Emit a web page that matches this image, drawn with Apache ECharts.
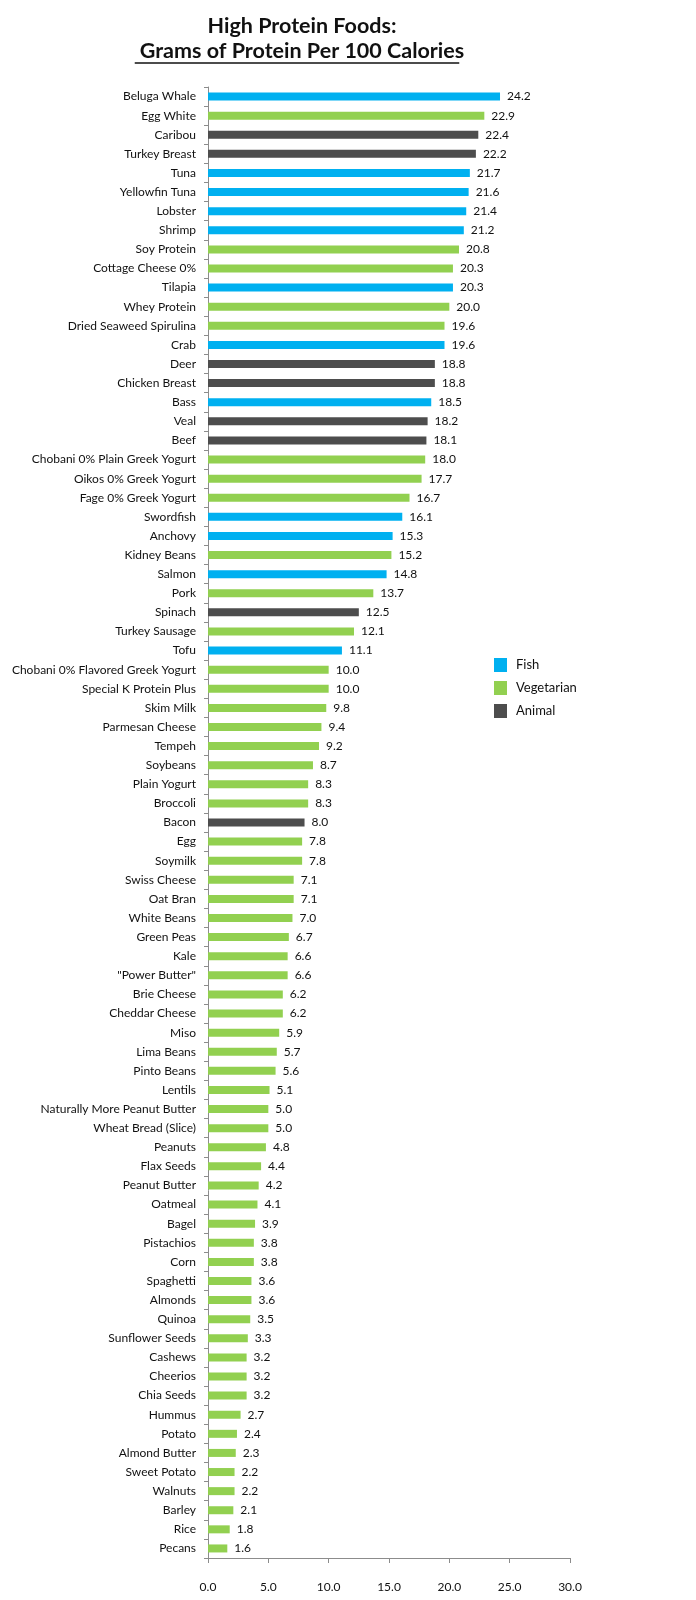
<!DOCTYPE html>
<html>
<head>
<meta charset="utf-8">
<title>High Protein Foods</title>
<script src="https://cdn.jsdelivr.net/npm/echarts@6/dist/echarts.min.js"></script>
<style>
  html, body { margin: 0; padding: 0; background: #fff; }
  #proteinChart { width: 696px; height: 1600px; }
</style>
</head>
<body>
<div id="proteinChart"></div>
<script>
// food names, top to bottom
var foods = ['Beluga Whale', 'Egg White', 'Caribou', 'Turkey Breast', 'Tuna', 'Yellowfin Tuna', 'Lobster', 'Shrimp',
    'Soy Protein', 'Cottage Cheese 0%', 'Tilapia', 'Whey Protein', 'Dried Seaweed Spirulina', 'Crab', 'Deer',
    'Chicken Breast', 'Bass', 'Veal', 'Beef', 'Chobani 0% Plain Greek Yogurt', 'Oikos 0% Greek Yogurt',
    'Fage 0% Greek Yogurt', 'Swordfish', 'Anchovy', 'Kidney Beans', 'Salmon', 'Pork', 'Spinach', 'Turkey Sausage',
    'Tofu', 'Chobani 0% Flavored Greek Yogurt', 'Special K Protein Plus', 'Skim Milk', 'Parmesan Cheese', 'Tempeh',
    'Soybeans', 'Plain Yogurt', 'Broccoli', 'Bacon', 'Egg', 'Soymilk', 'Swiss Cheese', 'Oat Bran', 'White Beans',
    'Green Peas', 'Kale', '"Power Butter"', 'Brie Cheese', 'Cheddar Cheese', 'Miso', 'Lima Beans', 'Pinto Beans',
    'Lentils', 'Naturally More Peanut Butter', 'Wheat Bread (Slice)', 'Peanuts', 'Flax Seeds', 'Peanut Butter',
    'Oatmeal', 'Bagel', 'Pistachios', 'Corn', 'Spaghetti', 'Almonds', 'Quinoa', 'Sunflower Seeds', 'Cashews',
    'Cheerios', 'Chia Seeds', 'Hummus', 'Potato', 'Almond Butter', 'Sweet Potato', 'Walnuts', 'Barley', 'Rice', 'Pecans'];

// grams of protein per 100 calories
var protein = [24.2, 22.9, 22.4, 22.2, 21.7, 21.6, 21.4, 21.2,
    20.8, 20.3, 20.3, 20.0, 19.6, 19.6, 18.8,
    18.8, 18.5, 18.2, 18.1, 18.0, 17.7,
    16.7, 16.1, 15.3, 15.2, 14.8, 13.7, 12.5, 12.1,
    11.1, 10.0, 10.0, 9.8, 9.4, 9.2,
    8.7, 8.3, 8.3, 8.0, 7.8, 7.8, 7.1, 7.1, 7.0,
    6.7, 6.6, 6.6, 6.2, 6.2, 5.9, 5.7, 5.6,
    5.1, 5.0, 5.0, 4.8, 4.4, 4.2,
    4.1, 3.9, 3.8, 3.8, 3.6, 3.6, 3.5, 3.3, 3.2,
    3.2, 3.2, 2.7, 2.4, 2.3, 2.2, 2.2, 2.1, 1.8, 1.6];

var fishFoods = ['Beluga Whale', 'Tuna', 'Yellowfin Tuna', 'Lobster', 'Shrimp', 'Tilapia', 'Crab', 'Bass',
    'Swordfish', 'Anchovy', 'Salmon', 'Tofu'];
var animalFoods = ['Caribou', 'Turkey Breast', 'Deer', 'Chicken Breast', 'Veal', 'Beef', 'Spinach', 'Bacon'];

var groupNames = ['Fish', 'Vegetarian', 'Animal'];
var groupColors = ['#00b0f0', '#92d050', '#4d4d4d'];

var xTicks = [0, 5, 10, 15, 20, 25, 30];

function groupOf(name) {
    if (fishFoods.indexOf(name) >= 0) return 'Fish';
    if (animalFoods.indexOf(name) >= 0) return 'Animal';
    return 'Vegetarian';
}

var fontFamily = 'Lato, "Open Sans", sans-serif';

var myChart = echarts.init(document.getElementById('proteinChart'));

var series = [];
for (var g = 0; g < groupNames.length; g++) {
    var d = [];
    for (var i = 0; i < foods.length; i++) {
        d.push(groupOf(foods[i]) === groupNames[g] ? protein[i] : '-');
    }
    series.push({
        name: groupNames[g],
        type: 'bar',
        stack: 'all',
        barWidth: 8,
        data: d,
        itemStyle: { color: groupColors[g] },
        label: {
            show: true,
            position: 'right',
            distance: 7,
            color: '#111',
            fontSize: 12,
            fontFamily: fontFamily,
            formatter: function (p) { return p.value.toFixed(1); }
        }
    });
}

// width of the subtitle, to place the underline under it
var titleSize = 21.5;
var ctx = document.createElement('canvas').getContext('2d');
ctx.font = 'bold ' + titleSize + 'px ' + fontFamily;
var subText = 'Grams of Protein Per 100 Calories';
var subW = ctx.measureText(subText).width;
var titleX = 297;

var option = {
    backgroundColor: '#fff',
    animation: false,
    title: [
        {
            text: 'High Protein Foods:',
            left: titleX, top: 10, textAlign: 'center',
            textStyle: { fontSize: titleSize, fontWeight: 'bold', color: '#111', fontFamily: fontFamily }
        },
        {
            text: subText,
            left: titleX, top: 35, textAlign: 'center',
            textStyle: { fontSize: titleSize, fontWeight: 'bold', color: '#111', fontFamily: fontFamily }
        }
    ],
    graphic: [
        {
            type: 'line',
            shape: { x1: titleX - subW / 2, y1: 63, x2: titleX + subW / 2, y2: 63 },
            style: { stroke: '#111', lineWidth: 1.5 }
        }
    ],
    legend: {
        orient: 'vertical',
        left: 489,
        top: 653,
        itemWidth: 13,
        itemHeight: 14,
        itemGap: 9,
        icon: 'rect',
        data: groupNames,
        textStyle: { fontSize: 13, color: '#111', fontFamily: fontFamily, padding: [0, 0, 0, 4] }
    },
    grid: {
        left: 208,
        right: 126,
        top: 87,
        bottom: 42,
        containLabel: false
    },
    xAxis: {
        type: 'value',
        min: 0,
        max: 30,
        interval: 5,
        splitLine: { show: false },
        axisLine: { show: true, lineStyle: { color: '#8c8c8c' } },
        axisTick: { show: true, length: 5, lineStyle: { color: '#8c8c8c' } },
        axisLabel: {
            margin: 23,
            fontSize: 12,
            color: '#111',
            fontFamily: fontFamily,
            formatter: function (v) { return xTicks.indexOf(v) >= 0 ? v.toFixed(1) : ''; }
        }
    },
    yAxis: {
        type: 'category',
        inverse: true,
        data: foods,
        axisLine: { show: true, lineStyle: { color: '#8c8c8c' } },
        axisTick: { show: true, length: 4, lineStyle: { color: '#8c8c8c' } },
        axisLabel: {
            interval: 0,
            margin: 12,
            fontSize: 12,
            color: '#111',
            fontFamily: fontFamily
        }
    },
    series: series
};

myChart.setOption(option);
</script>
</body>
</html>
